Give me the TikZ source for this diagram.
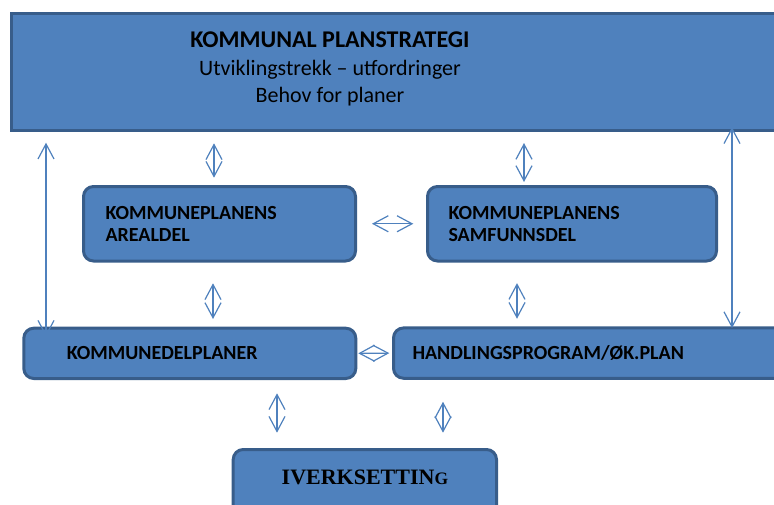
\documentclass[tikz,border=0pt]{standalone}
\usepackage{fontspec}
\setmainfont{Carlito}
\newfontfamily\timesfont{Liberation Serif}
\usetikzlibrary{arrows.meta}
\definecolor{boxfill}{RGB}{79,129,189}
\definecolor{boxline}{RGB}{56,93,138}

\begin{document}
\begin{tikzpicture}[
        x=1pt, y=-1pt,
        block/.style={rectangle, rounded corners=10pt, draw=boxline, line width=3pt, fill=boxfill, align=left, font=\fontsize{20}{22.4}\selectfont\bfseries, minimum height=74.5pt},
        topblock/.style={rectangle, draw=boxline, line width=3pt, fill=boxfill, minimum width=777pt, minimum height=117pt},
        arrow/.style={<->, >={Straight Barb[length=15pt,width=16pt]}, draw=boxfill, line width=1.2pt}
    ]
    \useasboundingbox (0,0) rectangle (774,504);

    % Planstrategi
    \node[topblock] (strategi) at (400,72) {};
    \node[align=center, font=\fontsize{22}{27.7}\selectfont] (strategitekst) at (330,69) {{\fontsize{24}{27.7}\selectfont\bfseries KOMMUNAL PLANSTRATEGI}\\Utviklingstrekk – utfordringer\\Behov for planer};

    % Kommuneplanen
    \node[block, text width=228pt, inner xsep=22pt] (arealdel) at (219.5,223.75) {KOMMUNEPLANENS\\AREALDEL};
    \node[block, text width=247pt, inner xsep=21pt] (samfunnsdel) at (572,223.75) {KOMMUNEPLANENS\\SAMFUNNSDEL};

    % Delplaner og handlingsprogram
    \node[block, text width=246pt, inner xsep=43pt, minimum height=50.3pt] (delplaner) at (189.8,353.35) {KOMMUNEDELPLANER};
    \node[block, text width=358.5pt, inner xsep=19pt, minimum height=50.3pt] (handling) at (591.75,353.1) {HANDLINGSPROGRAM/ØK.PLAN};

    % Iverksetting
    \node[block, text width=166.3pt, inner xsep=48.5pt, inner ysep=3pt, text height=31.5pt, text depth=32.5pt, minimum height=0pt, font=\timesfont\fontsize{22}{24}\selectfont\bfseries] (iverk) at (364.85,484.5) {IVERKSETTIN{\fontsize{17.5}{20}\selectfont G}};

    % Connect everything
    \draw[arrow, shorten <=10.7pt, shorten >=-10pt] (46,0 |- strategi.south) -- (46,0 |- delplaner.north);
    \draw[arrow, shorten <=11.3pt, shorten >=7.3pt] (214,0 |- strategi.south) -- (214,0 |- arealdel.north);
    \draw[arrow, shorten <=11pt, shorten >=3pt] (524,0 |- strategi.south) -- (524,0 |- samfunnsdel.north);
    \draw[arrow, shorten <=15pt, shorten >=12.7pt] (arealdel.east) -- (samfunnsdel.west);
    \draw[arrow, shorten <=20.8pt, shorten >=7.7pt] (213,0 |- arealdel.south) -- (213,0 |- delplaner.north);
    \draw[arrow, shorten <=20.6pt, shorten >=7.7pt] (517,0 |- samfunnsdel.south) -- (517,0 |- handling.north);
    \draw[arrow, shorten <=-4.7pt, shorten >=-1.6pt] (732,0 |- strategi.south) -- (732,0 |- handling.north);
    \draw[arrow, shorten <=1pt, shorten >=2.7pt] (delplaner.east) -- (handling.west);
    \draw[arrow, shorten <=13.3pt, shorten >=15.3pt] (277,0 |- delplaner.south) -- (277,0 |- iverk.north);
    \draw[arrow, shorten <=22pt, shorten >=15.3pt] (443,0 |- handling.south) -- (443,0 |- iverk.north);
\end{tikzpicture}
\end{document}
